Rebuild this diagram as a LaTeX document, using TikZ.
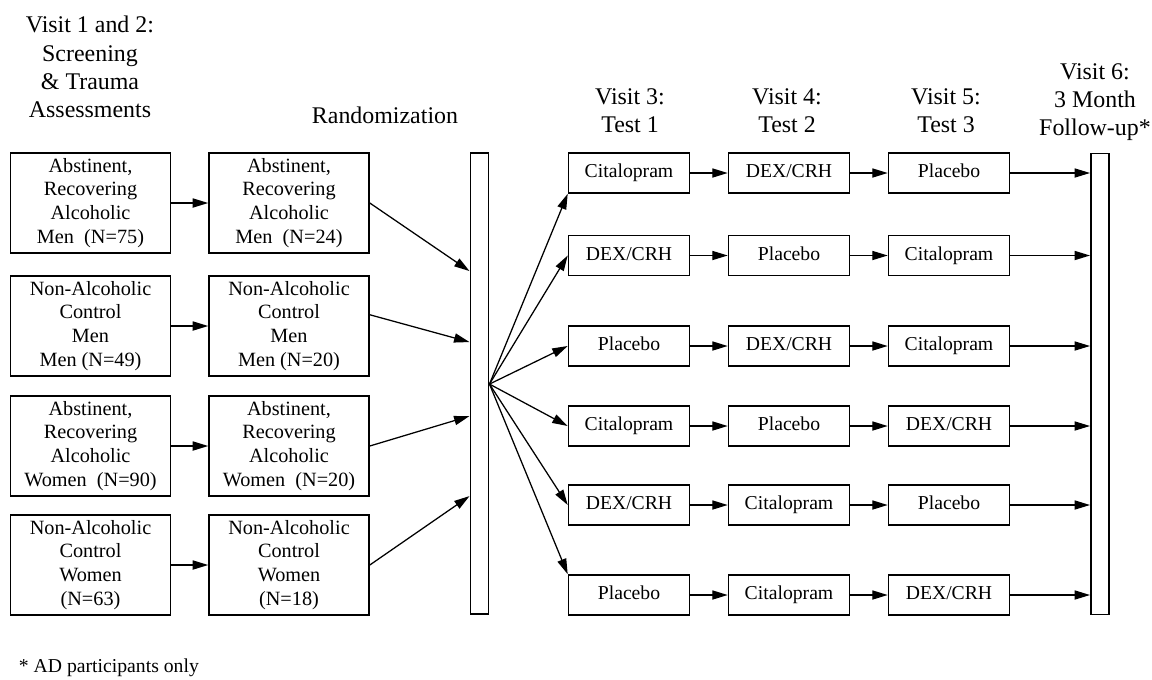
\documentclass[tikz,border=0pt]{standalone}
\usepackage{fontspec}
\setmainfont{Liberation Serif}
\usetikzlibrary{calc}
\usetikzlibrary{arrows.meta}

\newcommand\dex{DEX/CRH}

\begin{document}
\begin{tikzpicture} [x=0.025cm, y=-0.025cm,
  grp/.style={draw, line width=1.1pt, minimum width=4cm, minimum height=2.5cm, align=center, inner sep=1pt, font=\fontsize{14.4}{17}\selectfont},
  test/.style={draw, line width=1.1pt, minimum width=3.025cm, minimum height=1cm, inner sep=1pt, text height=2.3ex, text depth=0.9ex, font=\fontsize{14}{17}\selectfont},
  hdr/.style={align=center, font=\fontsize{17}{20}\selectfont},
  bar/.style={draw, line width=1.1pt, minimum width=0.46cm, minimum height=11.53cm, inner sep=0pt},
  arr/.style={-{Triangle[length=11pt,width=6.5pt]}, line width=0.9pt}]
\useasboundingbox (0,0) rectangle (1152,679);

\node[hdr] (h12) at (90,67) {Visit 1 and 2:\\Screening\\\& Trauma\\Assessments};
\node[hdr] (hrand) at (385,115) {Randomization};
\node[hdr] (h3) at (630,111) {Visit 3:\\Test 1};
\node[hdr] (h4) at (787,111) {Visit 4:\\Test 2};
\node[hdr] (h5) at (946,111) {Visit 5:\\Test 3};
\node[hdr] (h6) at (1095,102) {Visit 6:\\3 Month\\Follow-up*};

\node[bar] (bar1) at (479.5,383.5) {};
\node[bar] (bar2) at (1100,384) {};

\node[grp] (a1) at (90.5,203) {Abstinent,\\Recovering\\Alcoholic\\Men~~(N=75)};
\node[grp] (b1) at (289,203) {Abstinent,\\Recovering\\Alcoholic\\Men~~(N=24)};
\node[grp] (a2) at (90.5,326) {Non-Alcoholic\\Control\\Men\\Men (N=49)};
\node[grp] (b2) at (289,326) {Non-Alcoholic\\Control\\Men\\Men (N=20)};
\node[grp] (a3) at (90.5,446) {Abstinent,\\Recovering\\Alcoholic\\Women~~(N=90)};
\node[grp] (b3) at (289,446) {Abstinent,\\Recovering\\Alcoholic\\Women~~(N=20)};
\node[grp] (a4) at (90.5,565) {Non-Alcoholic\\Control\\Women\\(N=63)};
\node[grp] (b4) at (289,565) {Non-Alcoholic\\Control\\Women\\(N=18)};

\foreach \i/\dy in {1/119, 2/190, 3/264, 4/344} \coordinate (in\i) at ($(bar1.north west)+(0,\dy)$);
\coordinate (fan) at ($(bar1.north east)+(0,232)$);

\foreach \i in {1,...,4} \draw[arr] (a\i) -- (b\i);
\draw[arr] (b1.east) -- (in1);
\draw[arr] ([yshift=8pt]b2.east) -- (in2);
\draw[arr] (b3.east) -- (in3);
\draw[arr] (b4.east) -- (in4);

\foreach \r/\y/\p/\q/\s in {1/173/Citalopram/\dex/Placebo, 2/255.5/\dex/Placebo/Citalopram, 3/346/Placebo/\dex/Citalopram, 4/426/Citalopram/Placebo/\dex, 5/505/\dex/Citalopram/Placebo, 6/595/Placebo/Citalopram/\dex} {
  \node[test] (c\r) at (629,\y) {\p};
  \node[test] (d\r) at (789,\y) {\q};
  \node[test] (e\r) at (949,\y) {\s};
  \draw[arr] (c\r) -- (d\r);
  \draw[arr] (d\r) -- (e\r);
  \draw[arr] (e\r.east) -- (e\r.east -| bar2.west);
}

\draw[arr] (fan) -- (c1.south west);
\foreach \r in {2,...,5} \draw[arr] (fan) -- (c\r.west);
\draw[arr] (fan) -- (c6.north west);

\node[anchor=west, font=\fontsize{14}{17}\selectfont] (note) at (14,668) {* AD participants only};

\end{tikzpicture}
\end{document}
